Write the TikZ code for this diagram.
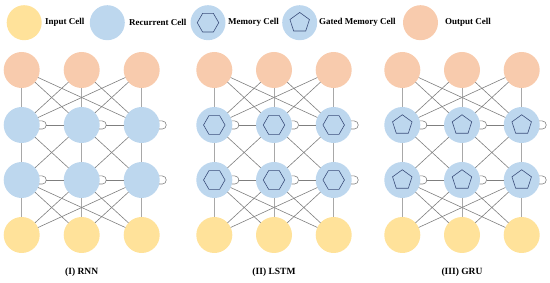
\documentclass[tikz,border=0pt]{standalone}
\usepackage{fontspec}
\setmainfont{Liberation Serif}
\usetikzlibrary{shapes.geometric}
\definecolor{inC}{HTML}{FFE29A}
\definecolor{recC}{HTML}{BDD7EE}
\definecolor{outC}{HTML}{F8CBAD}
\definecolor{shapeC}{HTML}{3C4F7C}
\definecolor{diagC}{HTML}{7F7F7F}
\definecolor{vertC}{HTML}{A8A8A8}
\tikzset{
  cell/.style={circle, minimum size=36pt, inner sep=0pt, outer sep=0pt},
  incell/.style={cell, fill=inC},
  reccell/.style={cell, fill=recC},
  outcell/.style={cell, fill=outC},
  diag/.style={draw=diagC, line width=0.6pt},
  vert/.style={draw=vertC, line width=1pt},
  hexmark/.style={regular polygon, regular polygon sides=6, minimum size=21.5pt, draw=shapeC, line width=0.6pt, inner sep=0pt},
  pentmark/.style={regular polygon, regular polygon sides=5, minimum size=20.5pt, draw=shapeC, line width=0.6pt, inner sep=0pt},
  legtext/.style={anchor=west, font=\fontsize{9}{10}\selectfont\bfseries, inner sep=0pt},
  lbl/.style={font=\fontsize{9.5}{11}\selectfont\bfseries, inner sep=0pt}
}
\newcommand{\drawpanel}[6]{%
  \foreach \i/\x in {1/#2,2/#3,3/#4}{
    \node[outcell] (#1o\i) at (\x,70) {};
    \node[reccell] (#1a\i) at (\x,125) {};
    \node[reccell] (#1b\i) at (\x,180) {};
    \node[incell]  (#1i\i) at (\x,235) {};
  }
  \foreach \i in {1,2,3}{
    \foreach \j in {1,2,3}{
      \ifnum\i=\j
        \draw[vert] (#1o\i) -- (#1a\j);
        \draw[vert] (#1a\i) -- (#1b\j);
        \draw[vert] (#1b\i) -- (#1i\j);
      \else
        \draw[diag] (#1o\i) -- (#1a\j);
        \draw[diag] (#1b\i) -- (#1i\j);
      \fi
    }
  }
  \foreach \i/\j in {1/2,2/1,2/3,3/2}{
    \draw[diag] (#1a\i) -- (#1b\j);
  }
  \foreach \r in {a,b}{
    \foreach \i/\j in {1/2,2/3}{
      \draw[diag] ([xshift=6.5pt]#1\r\i.east) -- (#1\r\j.west);
    }
    \foreach \i in {1,2,3}{
      \draw[diag] (#1\r\i.13) -- ([xshift=3pt]#1\r\i.13)
        .. controls +(5.3pt,0) and +(5.3pt,0) .. ([xshift=3pt]#1\r\i.-13)
        -- (#1\r\i.-13);
    }
  }
  \node[lbl] (#1lab) at (#3,272) {#6};
}
\begin{document}
\begin{tikzpicture}[x=1pt,y=-1pt]
\useasboundingbox (0,0) rectangle (550,283);
% legend
\node[incell, minimum size=35pt] (lgIn) at (24.2,22.7) {};
\node[legtext] (lgInT) at (45,22.7) {Input Cell};
\node[reccell, minimum size=35pt] (lgRec) at (107.3,22.7) {};
\node[legtext] (lgRecT) at (129,22.7) {Recurrent Cell};
\node[reccell, minimum size=35pt] (lgMem) at (208,22.7) {};
\node[hexmark] (lgMemS) at (lgMem.center) {};
\node[legtext] (lgMemT) at (228,22.7) {Memory Cell};
\node[reccell, minimum size=35pt] (lgGat) at (299.7,22.7) {};
\node[pentmark] (lgGatS) at (lgGat.center) {};
\node[legtext] (lgGatT) at (319,22.7) {Gated Memory Cell};
\node[outcell, minimum size=35pt] (lgOut) at (420.5,22.7) {};
\node[legtext] (lgOutT) at (445,22.7) {Output Cell};
% panels
\drawpanel{R}{21.7}{81.7}{141.7}{}{(I) RNN}
\drawpanel{L}{214.3}{274}{333.7}{}{(II) LSTM}
\drawpanel{G}{402.3}{462}{521.7}{}{(III) GRU}
\foreach \r in {a,b}{
  \foreach \i in {1,2,3}{
    \node[hexmark] (Lm\r\i) at (L\r\i.center) {};
    \node[pentmark] (Gm\r\i) at (G\r\i.center) {};
  }
}
\end{tikzpicture}
\end{document}
